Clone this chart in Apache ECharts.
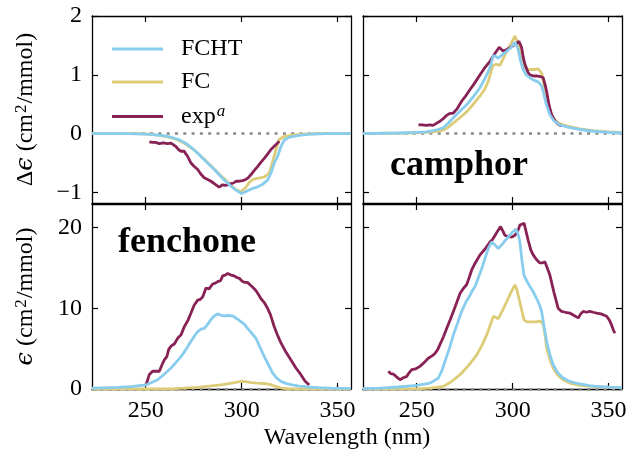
<!DOCTYPE html>
<html>
<head>
<meta charset="utf-8">
<script src="https://cdn.jsdelivr.net/npm/echarts@6/dist/echarts.min.js"></script>
<style>html,body{margin:0;padding:0;background:#fff}#c{width:639px;height:453px}</style>
</head>
<body>
<div id="c"></div>
<script>
// ---------- data ----------
const xMin = 222, xMax = 357;
const xTicks = [250, 300, 350];
const cdMin = -1.18, cdMax = 2;
const cdTicks = [-1, 0, 1, 2];
const absMin = 0, absMax = 22.9;
const absTicks = [0, 10, 20];
const seriesNames = ['FCHT', 'FC', 'exp'];
const panelLabels = ['camphor', 'fenchone'];

// fenchone, CD (top-left)
const fenCdFchtWl = [222,240,250,255,260,264,268,272,277,281,286,290,294,297,300,302,305,308,311,313.5,315.3,317,318.7,320.5,322.2,325,330,336,345,357];
const fenCdFchtVal = [0,0,-0.01,-0.02,-0.04,-0.07,-0.11,-0.19,-0.33,-0.46,-0.62,-0.76,-0.88,-0.96,-1.02,-0.99,-0.94,-0.91,-0.86,-0.79,-0.67,-0.50,-0.39,-0.22,-0.11,-0.06,-0.03,-0.01,0,0];
const fenCdFcWl = [222,245,252,257,262,266,270,275,280,285,290,294,297,299.5,302,304,305.7,308,311.8,314.4,316,317.9,319.6,322,326,332,340,357];
const fenCdFcVal = [0,0,-0.01,-0.03,-0.06,-0.10,-0.16,-0.27,-0.42,-0.58,-0.74,-0.86,-0.95,-0.99,-0.92,-0.83,-0.78,-0.76,-0.74,-0.67,-0.50,-0.27,-0.10,-0.05,-0.03,-0.01,0,0];
const fenCdExpWl = [251.9,253.5,255,257.1,258.5,259.7,261.5,263.2,264.5,265.8,267,268.4,270.1,271,271.9,273.6,275.3,277.1,278.8,280.5,282.3,284,285.3,286.6,288.3,289.3,290.1,291.5,292.7,294.4,295.8,297,298.8,300.5,302.2,303.5,304.8,306.5,308.3,310,311.8,313.5,315.3,317.5,319.6];
const fenCdExpVal = [-0.14,-0.15,-0.15,-0.17,-0.16,-0.16,-0.17,-0.16,-0.19,-0.22,-0.27,-0.30,-0.30,-0.35,-0.39,-0.50,-0.56,-0.61,-0.69,-0.75,-0.78,-0.81,-0.84,-0.87,-0.91,-0.93,-0.87,-0.88,-0.87,-0.85,-0.84,-0.81,-0.81,-0.80,-0.78,-0.75,-0.70,-0.63,-0.56,-0.49,-0.42,-0.35,-0.27,-0.20,-0.13];

// camphor, CD (top-right)
const camCdFchtWl = [222,240,250,255,258.6,261,263.9,266.5,269.1,272.5,276,279.5,283,286,288.2,289.9,291,292.5,294.5,296.9,299,301.2,302.9,304,305.5,307,309,311,313.3,315,315.9,317.5,319.4,321.5,324.6,329.8,335,342,350,357];
const camCdFchtVal = [0,0.01,0.02,0.03,0.05,0.07,0.10,0.18,0.27,0.38,0.49,0.63,0.78,0.97,1.12,1.32,1.32,1.28,1.34,1.40,1.46,1.55,1.43,1.25,1.09,1.00,0.95,0.91,0.88,0.82,0.72,0.50,0.32,0.22,0.15,0.10,0.07,0.04,0.02,0.01];
const camCdFcWl = [222,245,255,258.6,263.9,266.5,269.1,272.5,276,279.5,283,285.5,287.3,288.7,289.9,291.5,293.4,295,296.9,299,301.2,302.9,304.2,305.5,308.1,311,313.3,315.1,316.5,317.7,319.5,321.1,323.5,326.3,329.8,335,342,350,357];
const camCdFcVal = [0,0.01,0.02,0.03,0.06,0.11,0.18,0.27,0.37,0.50,0.64,0.76,0.89,1.05,1.16,1.18,1.16,1.27,1.40,1.52,1.66,1.52,1.30,1.15,1.09,1.09,1.10,1.03,0.82,0.61,0.40,0.27,0.19,0.15,0.12,0.08,0.05,0.03,0.02];
const camCdExpWl = [250.9,253,255,257,258.6,260,262.1,264,265.6,267,269.1,271,273.4,275.5,277.8,280,283,285.5,288.2,290.5,293,295.1,297,298.6,300.5,302,303.3,304.7,305.5,306.4,308,309,311,312.5,314.5,315.9,317,317.7,319,320.3,322,323.7,325.5];
const camCdExpVal = [0.15,0.15,0.14,0.15,0.14,0.17,0.21,0.26,0.31,0.34,0.35,0.42,0.55,0.64,0.75,0.85,1.00,1.12,1.23,1.35,1.47,1.40,1.43,1.46,1.50,1.53,1.57,1.46,1.30,1.18,1.04,1.00,0.98,0.98,0.97,0.95,0.82,0.72,0.48,0.32,0.22,0.16,0.13];

// fenchone, absorption (bottom-left)
const fenAbsFchtWl = [222,235,242.3,250.2,253,256.2,259.5,263.2,265.8,268.4,271,273.6,275.5,277.1,278.8,280.5,282.3,284,286,287.8,289.3,290.9,293,295.3,297.5,299.6,301.5,303.1,305.3,307.4,309.5,311.8,314,316.1,318.3,320.5,323,325.7,330,334.4,340,346.5,357];
const fenAbsFchtVal = [0.1,0.2,0.3,0.5,0.8,1.15,1.8,2.6,3.3,4.0,4.9,5.9,6.6,7.1,7.4,7.5,8.0,8.6,9.1,9.3,9.1,9.05,9.1,9.05,8.7,8.35,8.0,7.5,6.9,6.3,5.2,4.0,3.0,2.0,1.35,0.94,0.7,0.53,0.35,0.25,0.17,0.12,0.08];
const fenAbsFcWl = [222,255,265,270,277,283,289.2,294,299.6,302,305,308.3,312,315.3,318,320.5,324,330,357];
const fenAbsFcVal = [0,0,0.05,0.1,0.2,0.35,0.5,0.7,0.95,0.9,0.8,0.74,0.68,0.53,0.3,0.12,0.04,0,0];
const fenAbsExpWl = [250.2,251.9,253.6,255.5,257.1,258.5,259.7,261,262,263.2,265,266.7,268.4,270.1,272,273.6,275.3,277.1,278.5,279.7,281.4,283,284.9,286.3,287.5,289,290.1,291.5,292.7,294.5,296.1,297.5,298.8,300,301.4,303,304,305.8,307.4,308.8,310,311.8,313.5,315,317,318.8,320.5,323,325.7,328.3,330.9,333,335.2];
const fenAbsExpVal = [0.5,1.8,2.2,2.2,2.2,3.0,3.6,4.0,4.9,5.3,5.6,6.3,6.7,7.7,8.5,9.4,10.4,11.0,11.1,11.4,12.5,12.4,13.0,13.1,13.3,13.4,14.0,14.1,14.3,14.1,14.0,13.8,13.7,13.4,13.2,13.2,13.1,12.6,12.2,11.7,11.2,10.7,10.0,9.2,7.7,6.6,5.7,4.6,3.6,2.6,1.77,1.0,0.5];

// camphor, absorption (bottom-right)
const camAbsFchtWl = [222,231,240,250,254,256.9,259,261.3,263,264.7,267,269.1,271.5,273.4,275.5,277.8,279,280.4,282,283.9,285.5,287.3,289.1,290.5,292.5,294.5,296.9,299.5,301.7,302.8,303.8,304.8,305.9,307.5,309,310.8,312.5,314,315.1,316.2,317.7,319.5,321.1,323.5,326.3,330,335,340,343.8,350,357];
const camAbsFchtVal = [0.05,0.12,0.25,0.44,0.6,0.74,1.0,1.36,2.2,3.4,5.0,6.7,8.3,9.6,10.7,11.6,12.2,12.7,13.7,14.9,16.1,17.4,18.2,17.9,17.4,17.9,18.6,19.3,19.8,19.2,18.2,16.0,14.1,13.3,12.7,12.0,11.2,10.4,9.6,8.0,5.9,4.2,3.0,2.0,1.36,0.9,0.62,0.42,0.32,0.24,0.18];
const camAbsFcWl = [222,250,256.9,260,263.9,268,272.6,277,281.2,284,286.5,288.3,290,291,292.5,294.5,296.9,299,301.2,302.2,302.9,304.5,305.9,307.5,309.9,312,314.2,315.3,316,317,317.7,319.5,321.1,323.5,326.3,330,335,342,352.4,357];
const camAbsFcVal = [0,0.02,0.12,0.2,0.32,0.9,1.77,2.9,4.2,5.4,6.7,7.9,9.0,8.9,8.7,9.6,10.8,11.9,12.9,12.3,11.6,10.0,8.55,8.3,8.3,8.3,8.4,8.2,7.9,6.5,5.1,3.6,2.6,1.7,1.15,0.7,0.44,0.3,0.2,0.15];
const camAbsExpWl = [235.2,236.5,237.8,239.5,241.3,243,244.8,246,247.4,249.5,251.7,254,256,258,259.5,261,262.1,264,265.6,267.5,269.1,271,272.6,274.5,276,277.5,278.6,280.5,283,285.5,288.2,289.5,290.8,292.3,293.7,295,296,297.8,299.5,301,302.1,303.2,303.8,306,307,308.1,309.5,310.7,312.5,314.2,315.5,316.8,318,319.4,321.5,323.7,325.5,327.5,329.8,332,334.2,335.5,336.8,338.5,340.3,342,343.8,346,349,350.5,351.6,352.5,353.3];
const camAbsExpVal = [2.2,1.9,1.85,1.5,1.15,1.4,1.56,2.0,2.4,2.5,2.8,3.3,3.8,4.1,4.4,4.9,5.5,6.5,7.5,8.6,9.6,10.8,11.85,12.5,12.9,13.9,14.7,15.6,16.6,17.3,18.2,18.5,19.0,19.6,20.1,19.5,19.0,18.9,18.8,19.0,19.3,19.9,20.3,20.5,19.5,18.4,17.2,16.6,16.0,15.6,15.6,15.75,15.0,14.1,12.0,10.0,9.6,9.5,9.4,9.1,8.8,9.3,9.6,9.5,9.6,9.5,9.4,9.3,9.0,8.5,7.9,7.3,6.9];

// ---------- chart ----------
const FONT = 'Liberation Serif, DejaVu Serif, serif';
const colors = {FCHT: '#88CCEE', FC: '#DDCC77', exp: '#882255'};
const zip = (xs, ys) => xs.map((x, i) => [x, ys[i]]);
const minusFmt = v => (v < 0 ? '\u2212' + Math.abs(v) : String(v));

const grids = [
  {left: 92, top: 16, width: 259, height: 187},
  {left: 363, top: 16, width: 259, height: 187},
  {left: 92, top: 204, width: 259, height: 185},
  {left: 363, top: 204, width: 259, height: 185}
];

const panels = [
  {fcht: zip(fenCdFchtWl, fenCdFchtVal), fc: zip(fenCdFcWl, fenCdFcVal), exp: zip(fenCdExpWl, fenCdExpVal), ymin: cdMin, ymax: cdMax, yt: cdTicks},
  {fcht: zip(camCdFchtWl, camCdFchtVal), fc: zip(camCdFcWl, camCdFcVal), exp: zip(camCdExpWl, camCdExpVal), ymin: cdMin, ymax: cdMax, yt: cdTicks},
  {fcht: zip(fenAbsFchtWl, fenAbsFchtVal), fc: zip(fenAbsFcWl, fenAbsFcVal), exp: zip(fenAbsExpWl, fenAbsExpVal), ymin: absMin, ymax: absMax, yt: absTicks},
  {fcht: zip(camAbsFchtWl, camAbsFchtVal), fc: zip(camAbsFcWl, camAbsFcVal), exp: zip(camAbsExpWl, camAbsExpVal), ymin: absMin, ymax: absMax, yt: absTicks}
];

const axisLine = {show: true, onZero: false, lineStyle: {color: '#000', width: 1.3}};
const tickStyle = {color: '#000', width: 1.2};
const labelStyle = {color: '#000', fontSize: 24, fontFamily: FONT};
const LW = 2.8;

const xAxis = [], yAxis = [], series = [];
const yNames = ['{d|\u0394}{e|\u03f5} (cm{s|2}/mmol)', '', '{e|\u03f5} (cm{s|2}/mmol)', ''];

panels.forEach((p, g) => {
  ['bottom', 'top'].forEach(pos => {
    xAxis.push({
      type: 'value', gridIndex: g, position: pos, min: xMin, max: xMax,
      axisLine: axisLine,
      axisTick: {show: true, inside: true, length: 6, customValues: xTicks, lineStyle: tickStyle},
      axisLabel: Object.assign({show: pos === 'bottom' && g >= 2, customValues: xTicks, margin: 10}, labelStyle),
      splitLine: {show: false}
    });
  });
  ['left', 'right'].forEach(pos => {
    const main = pos === 'left' && (g === 0 || g === 2);
    yAxis.push({
      type: 'value', gridIndex: g, position: pos, min: p.ymin, max: p.ymax,
      axisLine: axisLine,
      axisTick: {show: true, inside: true, length: 6, customValues: p.yt, lineStyle: tickStyle},
      axisLabel: Object.assign({show: main, customValues: p.yt, margin: 10, formatter: minusFmt}, labelStyle),
      splitLine: {show: false},
      name: main ? yNames[g] : '',
      nameLocation: 'middle', nameGap: 54,
      nameTextStyle: {
        color: '#000', fontSize: 24, fontFamily: FONT,
        rich: {
          d: {fontSize: 24, fontFamily: FONT, color: '#000'},
          e: {fontSize: 24, fontFamily: 'DejaVu Serif', fontStyle: 'italic', color: '#000'},
          s: {fontSize: 17, fontFamily: FONT, color: '#000', verticalAlign: 'top', padding: [0, 1, 8, 1]}
        }
      }
    });
  });
  const base = {
    type: 'line', xAxisIndex: 2 * g, yAxisIndex: 2 * g,
    symbol: 'none', showSymbol: false, clip: true, silent: true
  };
  series.push(Object.assign({}, base, {
    name: 'FC', data: p.fc, z: 3,
    lineStyle: {color: colors.FC, width: LW}, itemStyle: {color: colors.FC},
    markLine: {
      silent: true, symbol: 'none', label: {show: false}, z: 1,
      lineStyle: {color: '#888', type: [3, 5.3], width: 2.6},
      data: [{yAxis: 0}]
    }
  }));
  series.push(Object.assign({}, base, {
    name: 'exp', data: p.exp, z: 4,
    lineStyle: {color: colors.exp, width: LW}, itemStyle: {color: colors.exp}
  }));
  series.push(Object.assign({}, base, {
    name: 'FCHT', data: p.fcht, z: 5,
    lineStyle: {color: colors.FCHT, width: LW}, itemStyle: {color: colors.FCHT}
  }));
});

const chart = echarts.init(document.getElementById('c'), null, {renderer: 'canvas'});
chart.setOption({
  animation: false,
  backgroundColor: '#fff',
  grid: grids,
  xAxis: xAxis,
  yAxis: yAxis,
  series: series,
  legend: {
    data: seriesNames,
    orient: 'vertical',
    left: 112, top: 37, padding: 0,
    icon: 'rect',
    itemWidth: 51, itemHeight: 3, itemGap: 9,
    selectedMode: false,
    formatter: n => (n === 'exp' ? 'exp{s|a}' : n),
    textStyle: {
      color: '#000', fontSize: 24, fontFamily: FONT, padding: [0, 0, 0, 13],
      rich: {s: {fontSize: 17, fontStyle: 'italic', fontFamily: FONT, verticalAlign: 'top', padding: [0, 0, 10, 1]}}
    }
  },
  graphic: [
    {type: 'text', left: 390, top: 148, silent: true,
     style: {text: panelLabels[0], font: 'bold 36px ' + FONT, fill: '#000'}},
    {type: 'text', left: 118, top: 225, silent: true,
     style: {text: panelLabels[1], font: 'bold 36px ' + FONT, fill: '#000'}},
    {type: 'text', x: 347, y: 438, silent: true,
     style: {text: 'Wavelength (nm)', font: '24px ' + FONT, fill: '#000', align: 'center', verticalAlign: 'middle'}}
  ]
});
</script>
</body>
</html>
